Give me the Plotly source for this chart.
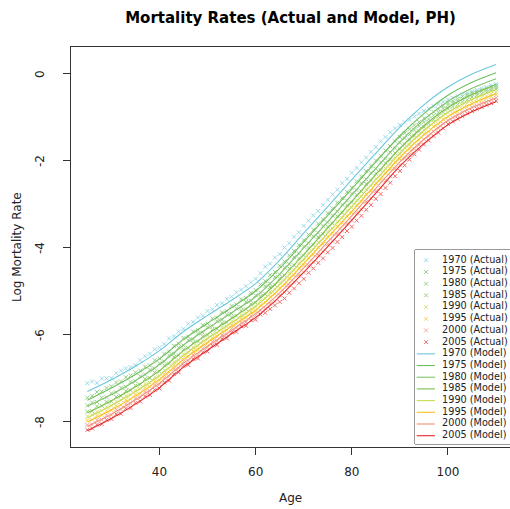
import plotly.graph_objects as go

years = [1970, 1975, 1980, 1985, 1990, 1995, 2000, 2005]
line_colors = ["#6CC7DB", "#6DBF5C", "#7DC46A", "#79C14A", "#C9DA4F", "#F8C21B", "#F3927C", "#E8282B"]
marker_colors = ["#9ADAE8", "#96D08A", "#9DD28E", "#9BD07C", "#D9E47E", "#F9D25E", "#F6A898", "#EF6A6C"]

ages = list(range(25, 111))
model_ages = list(range(25, 111, 5))

actual_1970 = [-7.11, -7.07, -7.10, -7.00, -7.00, -6.99, -6.88, -6.82, -6.77, -6.74, -6.69,
               -6.58, -6.49, -6.43, -6.33, -6.29, -6.21, -6.08, -6.03, -5.92, -5.86,
               -5.74, -5.70, -5.60, -5.56, -5.45, -5.41, -5.31, -5.27, -5.17, -5.12,
               -5.02, -4.96, -4.88, -4.79, -4.71, -4.58, -4.43, -4.36, -4.22, -4.14,
               -3.99, -3.89, -3.74, -3.64, -3.49, -3.37, -3.25, -3.15, -3.01, -2.89,
               -2.77, -2.66, -2.51, -2.41, -2.27, -2.16, -2.03, -1.92, -1.79, -1.68,
               -1.55, -1.45, -1.34, -1.25, -1.17, -1.11, -1.05, -0.98, -0.91, -0.85,
               -0.80, -0.74, -0.69, -0.64, -0.59, -0.55, -0.51, -0.47, -0.44, -0.40,
               -0.37, -0.33, -0.30, -0.26, -0.23]
actual_1975 = [-7.44, -7.40, -7.31, -7.30, -7.22, -7.18, -7.09, -7.07, -6.97, -6.93, -6.86,
               -6.82, -6.73, -6.70, -6.58, -6.54, -6.43, -6.38, -6.25, -6.20, -6.07,
               -6.04, -5.92, -5.89, -5.77, -5.74, -5.62, -5.60, -5.48, -5.45, -5.33,
               -5.30, -5.18, -5.15, -5.03, -4.97, -4.84, -4.76, -4.62, -4.55, -4.41,
               -4.31, -4.17, -4.07, -3.93, -3.82, -3.69, -3.58, -3.44, -3.34, -3.20,
               -3.09, -2.96, -2.85, -2.71, -2.61, -2.47, -2.36, -2.23, -2.11, -1.99,
               -1.88, -1.76, -1.66, -1.55, -1.45, -1.36, -1.27, -1.18, -1.10, -1.02,
               -0.95, -0.87, -0.81, -0.73, -0.66, -0.62, -0.57, -0.52, -0.48, -0.43,
               -0.41, -0.37, -0.34, -0.30, -0.27]
actual_1980 = [-7.62, -7.55, -7.54, -7.44, -7.43, -7.34, -7.32, -7.21, -7.19, -7.08, -7.06,
               -6.95, -6.91, -6.80, -6.77, -6.65, -6.61, -6.47, -6.43, -6.29, -6.24,
               -6.12, -6.10, -5.97, -5.95, -5.82, -5.80, -5.68, -5.65, -5.53, -5.51,
               -5.39, -5.36, -5.24, -5.21, -5.09, -5.03, -4.88, -4.82, -4.67, -4.61,
               -4.45, -4.37, -4.21, -4.13, -3.97, -3.89, -3.73, -3.65, -3.49, -3.41,
               -3.25, -3.16, -3.00, -2.91, -2.75, -2.67, -2.51, -2.42, -2.27, -2.18,
               -2.03, -1.95, -1.80, -1.71, -1.58, -1.48, -1.39, -1.29, -1.20, -1.11,
               -1.04, -0.95, -0.88, -0.79, -0.72, -0.67, -0.62, -0.57, -0.52, -0.47,
               -0.44, -0.40, -0.37, -0.34, -0.31]
actual_1985 = [-7.76, -7.75, -7.64, -7.63, -7.54, -7.53, -7.42, -7.40, -7.29, -7.27, -7.16,
               -7.14, -7.01, -6.99, -6.86, -6.84, -6.70, -6.66, -6.51, -6.47, -6.33,
               -6.30, -6.18, -6.15, -6.03, -6.00, -5.88, -5.86, -5.73, -5.71, -5.59,
               -5.56, -5.44, -5.41, -5.29, -5.26, -5.11, -5.06, -4.90, -4.85, -4.70,
               -4.63, -4.47, -4.40, -4.24, -4.17, -4.00, -3.93, -3.75, -3.68, -3.51,
               -3.44, -3.27, -3.19, -3.02, -2.95, -2.78, -2.70, -2.53, -2.45, -2.29,
               -2.21, -2.05, -1.97, -1.82, -1.73, -1.62, -1.52, -1.42, -1.32, -1.22,
               -1.14, -1.05, -0.97, -0.88, -0.80, -0.75, -0.70, -0.64, -0.59, -0.53,
               -0.49, -0.46, -0.42, -0.39, -0.35]
actual_1990 = [-7.87, -7.83, -7.76, -7.74, -7.65, -7.63, -7.53, -7.50, -7.40, -7.38, -7.27,
               -7.24, -7.12, -7.10, -6.97, -6.95, -6.81, -6.77, -6.62, -6.58, -6.44,
               -6.41, -6.28, -6.26, -6.13, -6.10, -5.98, -5.96, -5.83, -5.81, -5.69,
               -5.66, -5.54, -5.51, -5.39, -5.36, -5.21, -5.16, -5.01, -4.96, -4.81,
               -4.74, -4.58, -4.51, -4.35, -4.28, -4.11, -4.04, -3.87, -3.80, -3.63,
               -3.56, -3.39, -3.31, -3.14, -3.07, -2.90, -2.82, -2.65, -2.57, -2.41,
               -2.33, -2.17, -2.08, -1.92, -1.84, -1.70, -1.63, -1.49, -1.42, -1.29,
               -1.23, -1.12, -1.06, -0.96, -0.89, -0.83, -0.78, -0.72, -0.67, -0.62,
               -0.58, -0.54, -0.51, -0.46, -0.42]
actual_1995 = [-7.96, -7.95, -7.85, -7.84, -7.74, -7.73, -7.62, -7.61, -7.49, -7.48, -7.36,
               -7.35, -7.21, -7.19, -7.06, -7.04, -6.89, -6.86, -6.70, -6.67, -6.52,
               -6.50, -6.37, -6.35, -6.22, -6.19, -6.07, -6.04, -5.92, -5.89, -5.77,
               -5.75, -5.62, -5.60, -5.47, -5.45, -5.31, -5.25, -5.12, -5.06, -4.92,
               -4.85, -4.69, -4.62, -4.46, -4.39, -4.22, -4.15, -3.98, -3.91, -3.74,
               -3.67, -3.50, -3.43, -3.26, -3.19, -3.01, -2.94, -2.76, -2.69, -2.51,
               -2.44, -2.27, -2.19, -2.02, -1.95, -1.80, -1.73, -1.59, -1.52, -1.38,
               -1.33, -1.21, -1.16, -1.04, -0.98, -0.91, -0.87, -0.80, -0.76, -0.69,
               -0.65, -0.61, -0.57, -0.52, -0.48]
actual_2000 = [-8.07, -8.06, -7.95, -7.95, -7.84, -7.84, -7.71, -7.71, -7.58, -7.58, -7.45,
               -7.44, -7.30, -7.29, -7.15, -7.14, -6.98, -6.95, -6.79, -6.77, -6.61,
               -6.60, -6.46, -6.45, -6.31, -6.29, -6.15, -6.14, -6.00, -5.99, -5.85,
               -5.84, -5.71, -5.70, -5.57, -5.55, -5.44, -5.39, -5.28, -5.23, -5.09,
               -5.02, -4.86, -4.79, -4.63, -4.56, -4.40, -4.32, -4.16, -4.08, -3.92,
               -3.84, -3.68, -3.60, -3.44, -3.36, -3.19, -3.11, -2.94, -2.86, -2.69,
               -2.61, -2.45, -2.35, -2.18, -2.09, -1.94, -1.86, -1.72, -1.63, -1.50,
               -1.43, -1.32, -1.25, -1.14, -1.07, -1.00, -0.95, -0.88, -0.83, -0.77,
               -0.73, -0.68, -0.64, -0.59, -0.55]
actual_2005 = [-8.18, -8.15, -8.06, -8.05, -7.95, -7.93, -7.82, -7.81, -7.69, -7.68, -7.56,
               -7.53, -7.41, -7.38, -7.26, -7.23, -7.09, -7.05, -6.90, -6.86, -6.71,
               -6.69, -6.55, -6.54, -6.40, -6.38, -6.24, -6.23, -6.09, -6.08, -5.94,
               -5.93, -5.80, -5.79, -5.66, -5.65, -5.53, -5.49, -5.40, -5.32, -5.24,
               -5.16, -5.03, -4.93, -4.81, -4.71, -4.57, -4.47, -4.34, -4.24, -4.10,
               -4.00, -3.86, -3.75, -3.61, -3.51, -3.37, -3.26, -3.12, -3.01, -2.87,
               -2.76, -2.62, -2.50, -2.35, -2.23, -2.10, -1.97, -1.85, -1.74, -1.62,
               -1.53, -1.43, -1.35, -1.25, -1.15, -1.09, -1.03, -0.97, -0.91, -0.85,
               -0.80, -0.76, -0.71, -0.67, -0.62]

model_1970 = [-7.30, -7.03, -6.72, -6.36, -5.92, -5.55, -5.20, -4.82, -4.28, -3.66, -3.05, -2.43, -1.82, -1.22, -0.71, -0.30, 0.00, 0.22]
model_1975 = [-7.50, -7.22, -6.91, -6.55, -6.10, -5.73, -5.37, -4.99, -4.47, -3.86, -3.25, -2.64, -2.02, -1.42, -0.91, -0.49, -0.19, 0.03]
model_1980 = [-7.64, -7.37, -7.05, -6.68, -6.23, -5.85, -5.49, -5.12, -4.60, -4.00, -3.40, -2.78, -2.17, -1.56, -1.05, -0.63, -0.33, -0.11]
model_1985 = [-7.79, -7.51, -7.19, -6.82, -6.36, -5.98, -5.62, -5.24, -4.73, -4.15, -3.54, -2.93, -2.31, -1.71, -1.19, -0.77, -0.47, -0.24]
model_1990 = [-7.90, -7.62, -7.30, -6.93, -6.47, -6.08, -5.72, -5.34, -4.84, -4.26, -3.66, -3.05, -2.43, -1.82, -1.30, -0.88, -0.58, -0.36]
model_1995 = [-8.00, -7.72, -7.40, -7.02, -6.56, -6.17, -5.80, -5.43, -4.94, -4.36, -3.76, -3.16, -2.53, -1.92, -1.40, -0.98, -0.68, -0.45]
model_2000 = [-8.10, -7.82, -7.49, -7.11, -6.65, -6.26, -5.89, -5.51, -5.03, -4.46, -3.86, -3.26, -2.63, -2.02, -1.50, -1.07, -0.77, -0.55]
model_2005 = [-8.20, -7.92, -7.59, -7.21, -6.74, -6.35, -5.97, -5.60, -5.12, -4.56, -3.97, -3.36, -2.74, -2.12, -1.60, -1.17, -0.87, -0.64]

actual_series = [actual_1970, actual_1975, actual_1980, actual_1985,
                 actual_1990, actual_1995, actual_2000, actual_2005]
model_series = [model_1970, model_1975, model_1980, model_1985,
                model_1990, model_1995, model_2000, model_2005]

x_ticks = [40, 60, 80, 100]
y_ticks = [0, -2, -4, -6, -8]
y_tick_labels = ["0", "-2", "-4", "-6", "-8"]

FONT = "DejaVu Sans, Open Sans, sans-serif"

fig = go.Figure()

for yr, mc, vals in zip(years, marker_colors, actual_series):
    fig.add_trace(go.Scatter(
        x=ages, y=vals, mode="markers", name=f"{yr} (Actual)",
        marker=dict(symbol="x-thin-open", size=4, color=mc, line=dict(width=1, color=mc)),
        showlegend=False, hoverinfo="skip"))

for yr, lc, vals in zip(years, line_colors, model_series):
    fig.add_trace(go.Scatter(
        x=model_ages, y=vals, mode="lines", name=f"{yr} (Model)",
        line=dict(color=lc, width=1.1, shape="spline", smoothing=0.8),
        showlegend=False, hoverinfo="skip"))

# hand-built legend in an inset axis (R-style compact legend)
labels = [f"{yr} (Actual)" for yr in years] + [f"{yr} (Model)" for yr in years]
for i, (yr, mc) in enumerate(zip(years, marker_colors)):
    fig.add_trace(go.Scatter(
        x=[0.116], y=[i], xaxis="x2", yaxis="y2", mode="markers",
        marker=dict(symbol="x-thin-open", size=4, color=mc, line=dict(width=1, color=mc)),
        showlegend=False, hoverinfo="skip"))
for i, (yr, lc) in enumerate(zip(years, line_colors)):
    fig.add_trace(go.Scatter(
        x=[0.018, 0.21], y=[i + 8, i + 8], xaxis="x2", yaxis="y2", mode="lines",
        line=dict(color=lc, width=1.1), showlegend=False, hoverinfo="skip"))
fig.add_trace(go.Scatter(
    x=[0.285] * len(labels), y=list(range(len(labels))), xaxis="x2", yaxis="y2",
    mode="text", text=labels, textposition="middle right",
    textfont=dict(family=FONT, size=9.7, color="#222"), cliponaxis=False,
    showlegend=False, hoverinfo="skip"))

annotations = [
    dict(text="Age", xref="paper", yref="paper", x=0.5, y=(447 - 498) / 400,
         xanchor="center", yanchor="middle", showarrow=False,
         font=dict(family=FONT, size=12, color="#222")),
    dict(text="Log Mortality Rate", xref="paper", yref="paper",
         x=(17 - 71) / 439, y=0.5, textangle=-90, xanchor="center",
         yanchor="middle", showarrow=False,
         font=dict(family=FONT, size=12, color="#222")),
]
# R-style rotated y tick labels
for v, t in zip(y_ticks, y_tick_labels):
    annotations.append(dict(text=t, xref="paper", yref="y", x=(40 - 71) / 439, y=v,
                            textangle=-90, xanchor="center", yanchor="middle",
                            showarrow=False, font=dict(family=FONT, size=12, color="#222")))

fig.update_layout(
    width=510, height=509,
    margin=dict(l=71, r=0, t=47, b=62, autoexpand=False),
    paper_bgcolor="white", plot_bgcolor="white",
    font=dict(family=FONT, color="#222"),
    title=dict(text="<b>Mortality Rates (Actual and Model, PH)</b>",
               x=0.5, xref="paper", y=1 - 18 / 509, yref="container",
               xanchor="center", yanchor="middle",
               font=dict(family=FONT, size=15, color="#000")),
    xaxis=dict(range=[21.6, 112.9], tickvals=x_ticks, ticks="outside", ticklen=7,
               tickcolor="#333", showline=True, linecolor="#333", linewidth=1, mirror=True,
               showgrid=False, zeroline=False, tickfont=dict(family=FONT, size=12, color="#222"),
               ticklabelstandoff=7, automargin=False),
    yaxis=dict(range=[-8.575, 0.62], tickvals=y_ticks, showticklabels=False,
               ticks="outside", ticklen=7, tickcolor="#333",
               showline=True, linecolor="#333", linewidth=1, mirror=False,
               showgrid=False, zeroline=False, automargin=False),
    xaxis2=dict(domain=[0.7836, 1.0], range=[0, 1], anchor="y2", visible=False,
                fixedrange=True, automargin=False),
    yaxis2=dict(domain=[0.0075, 0.4925], range=[15.71, -0.88], anchor="x2",
                visible=False, fixedrange=True, automargin=False),
    shapes=[dict(type="rect", xref="paper", yref="paper", x0=0.7836, x1=1.05,
                 y0=0.0075, y1=0.4925, line=dict(color="#333", width=1),
                 fillcolor="white", layer="below")],
    annotations=annotations,
)

fig.write_html("out.html", config={"displayModeBar": False},
               post_script="document.body.style.margin='0';document.body.style.overflow='hidden';")
